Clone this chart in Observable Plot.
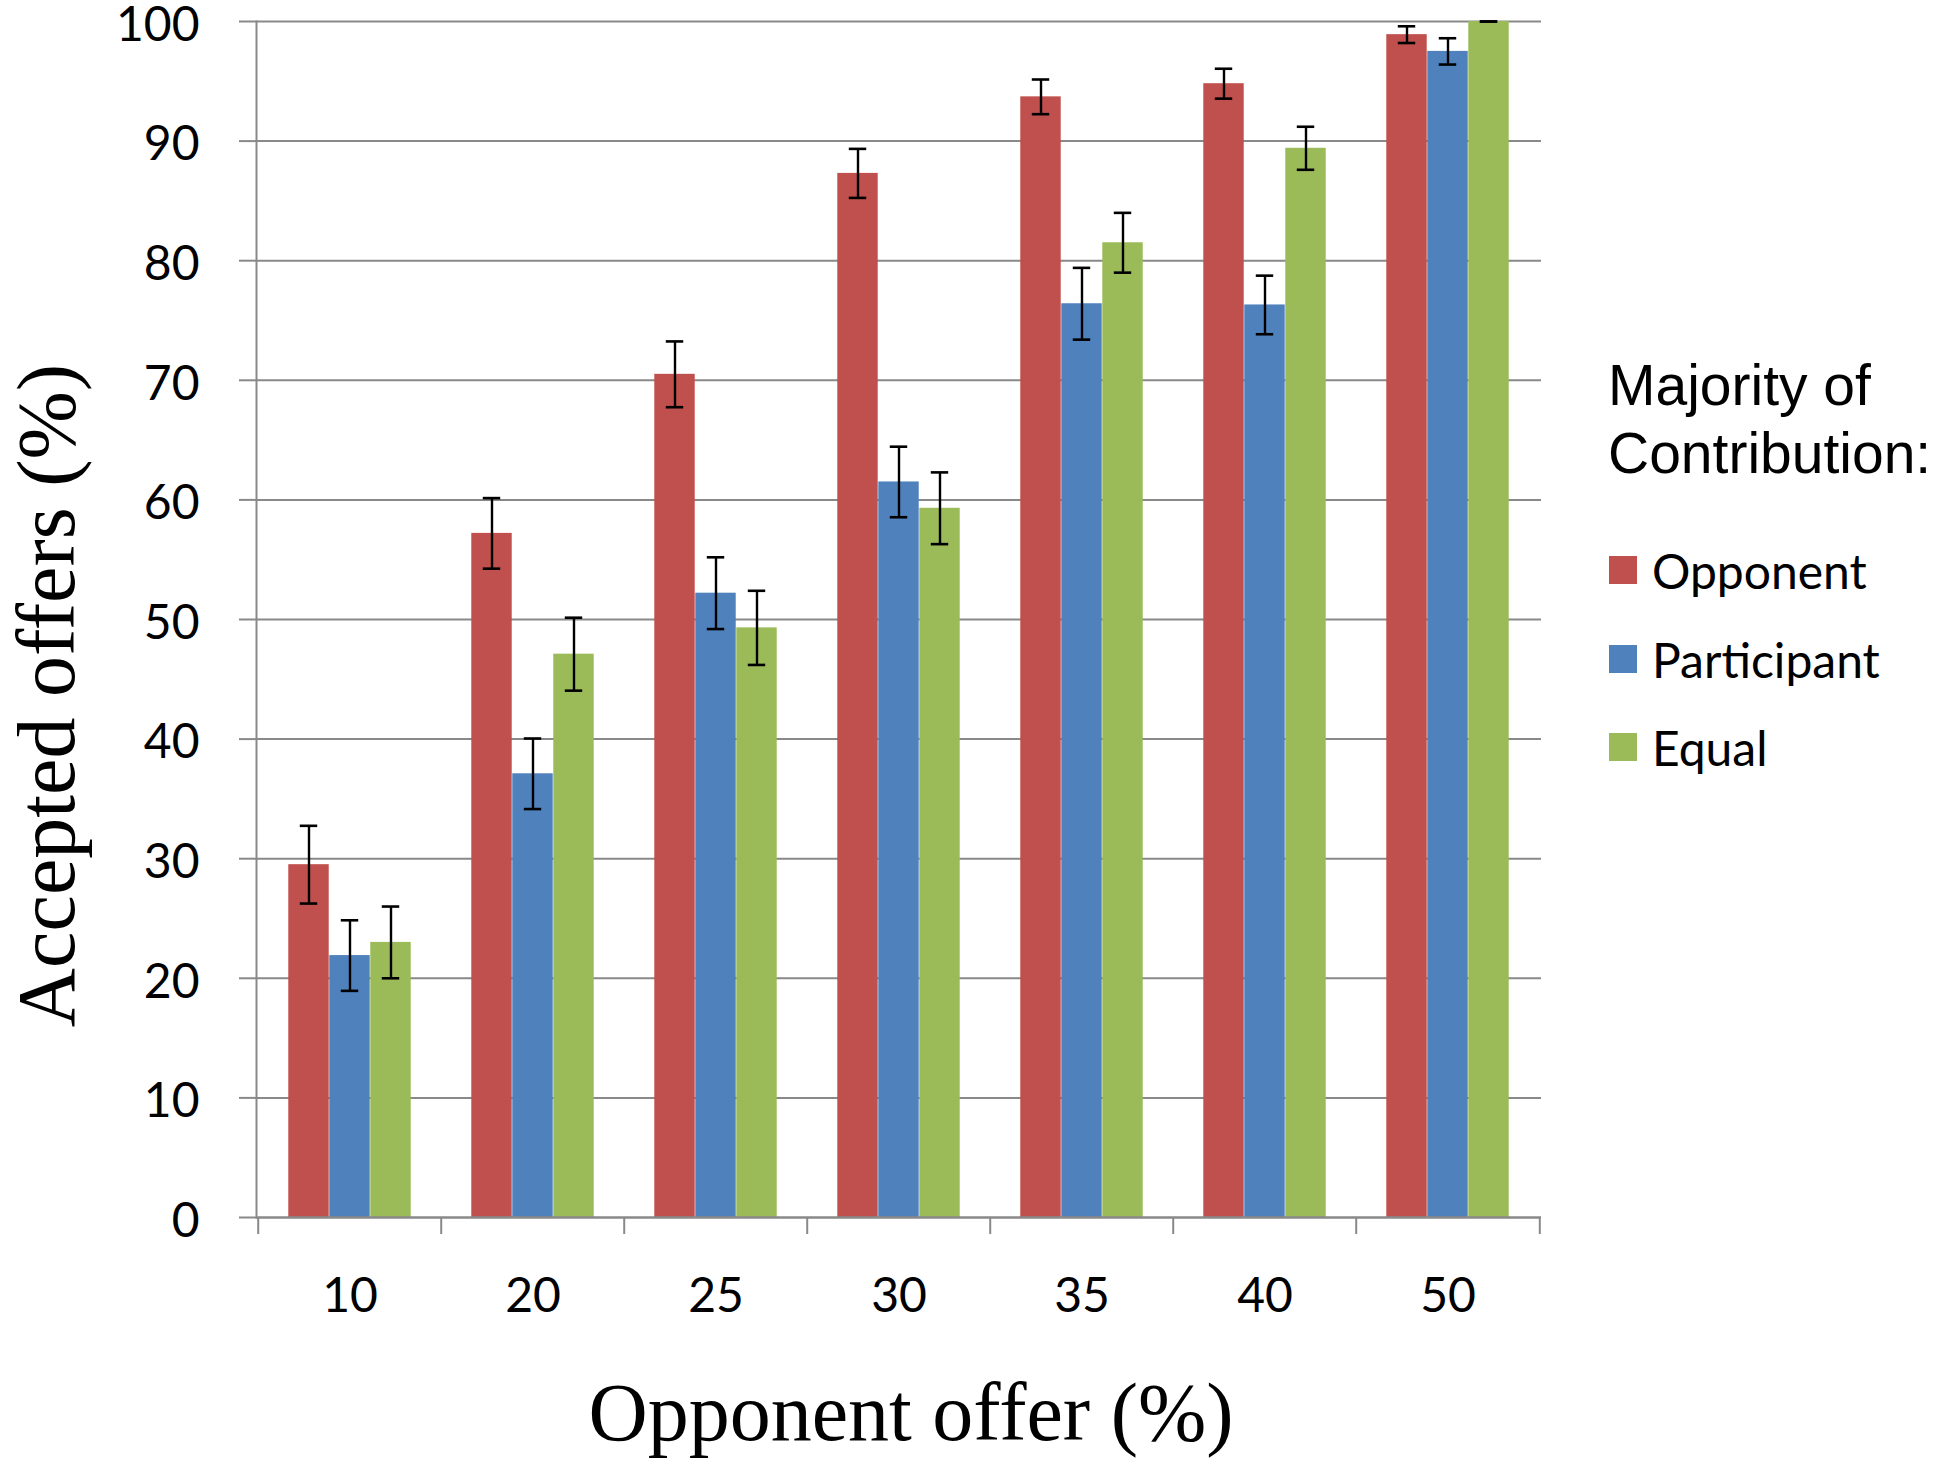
<!DOCTYPE html>
<html>
<head>
<meta charset="utf-8">
<script src="https://cdn.jsdelivr.net/npm/d3@7"></script>
<script src="https://cdn.jsdelivr.net/npm/@observablehq/plot@0.6"></script>
<style>
  html, body { margin: 0; padding: 0; background: #ffffff; }
  #wrap { position: relative; width: 1941px; height: 1462px; overflow: hidden; background: #fff; }
  #chart svg { display: block; }
  .legtitle { position: absolute; left: 1608px; top: 351px; font-family: "Liberation Sans", Arial, sans-serif; font-size: 57px; line-height: 68px; color: #000; white-space: nowrap; }
  .sw { position: absolute; left: 1609px; width: 28px; height: 28px; }
  .lt { position: absolute; left: 1652px; font-family: Lato, "Open Sans", sans-serif; font-size: 48px; line-height: 48px; color: #000; white-space: nowrap; }
</style>
</head>
<body>
<div id="wrap">
  <div id="chart"></div>
  <div id="legend"></div>
</div>
<script>
// ---- data ----
const offers = ["10", "20", "25", "30", "35", "40", "50"];
const seriesNames = ["Opponent", "Participant", "Equal"];
const seriesColors = ["#C0504D", "#4F81BD", "#9BBB59"];
const opponentValues = [29.5, 57.2, 70.5, 87.3, 93.7, 94.8, 98.9];
const opponentErrors = [3.25, 2.95, 2.75, 2.05, 1.45, 1.25, 0.7];
const participantValues = [21.9, 37.1, 52.2, 61.5, 76.4, 76.3, 97.5];
const participantErrors = [2.95, 2.95, 3.0, 2.95, 3.0, 2.45, 1.1];
const equalValues = [23.0, 47.1, 49.3, 59.3, 81.5, 89.4, 100];
const equalErrors = [3.0, 3.05, 3.1, 3.0, 2.5, 1.8, 0];
const yTicks = [0, 10, 20, 30, 40, 50, 60, 70, 80, 90, 100];
const xTitle = "Opponent offer (%)";
const yTitle = "Accepted offers (%)";
const legendTitle = ["Majority of", "Contribution:"];

// ---- layout ----
const W = 1941, H = 1462;
const mL = 256, mR = 400, mT = 21, mB = 245;
const plotW = W - mL - mR, plotH = H - mT - mB;
const band = plotW / offers.length;
const barW = 41, capW = 18;
const barInset = (band - barW) / 2;
const capInset = (band - capW) / 2;
const gray = "#898989";

const valueSets = [opponentValues, participantValues, equalValues];
const errorSets = [opponentErrors, participantErrors, equalErrors];
const rowsBySeries = seriesNames.map((s, j) =>
  offers.map((o, i) => ({offer: o, series: s, value: valueSets[j][i], err: errorSets[j][i]}))
);

const barMarks = [], errMarks = [];
rowsBySeries.forEach((rows, j) => {
  const dx = (j - 1) * barW;
  barMarks.push(Plot.barY(rows, {x: "offer", y: "value", fill: seriesColors[j], dx, insetLeft: barInset, insetRight: barInset}));
  errMarks.push(Plot.ruleX(rows, {x: "offer", y1: d => d.value - d.err, y2: d => d.value + d.err, dx, stroke: "#000", strokeWidth: 2.4}));
  errMarks.push(Plot.tickY(rows, {x: "offer", y: d => d.value + d.err, dx, insetLeft: capInset, insetRight: capInset, stroke: "#000", strokeWidth: 2.6}));
  errMarks.push(Plot.tickY(rows, {x: "offer", y: d => d.value - d.err, dx, insetLeft: capInset, insetRight: capInset, stroke: "#000", strokeWidth: 2.6}));
});

const chart = Plot.plot({
  width: W, height: H,
  marginLeft: mL, marginRight: mR, marginTop: mT, marginBottom: mB,
  style: {background: "transparent", overflow: "visible", color: "#000"},
  x: {domain: offers, padding: 0, label: null},
  y: {domain: [0, 100], label: null},
  marks: [
    Plot.ruleY(yTicks.filter(t => t > 0), {stroke: gray, strokeWidth: 2}),
    ...barMarks,
    ...errMarks,
    Plot.ruleY([0], {stroke: gray, strokeWidth: 2.5}),
    Plot.frame({anchor: "left", stroke: gray, strokeWidth: 2}),
    Plot.axisY({ticks: yTicks, tickSize: 17, stroke: gray, strokeWidth: 2, text: null, label: null}),
    Plot.axisY({ticks: yTicks, tickSize: 17, tickPadding: 40, dy: 4, stroke: "none", fill: "#000", fontSize: 48, fontFamily: "Lato, 'Open Sans', sans-serif", label: null}),
    Plot.axisX({tickSize: 0, tickPadding: 60, fill: "#000", fontSize: 48, fontFamily: "Lato, 'Open Sans', sans-serif", label: null}),
    Plot.ruleX(offers, {dx: -band / 2, insetTop: plotH, insetBottom: -17, stroke: gray, strokeWidth: 2}),
    Plot.ruleX(offers.slice(-1), {dx: band / 2, insetTop: plotH, insetBottom: -17, stroke: gray, strokeWidth: 2}),
    Plot.text([xTitle], {frameAnchor: "bottom", textAnchor: "middle", lineAnchor: "bottom", dx: 12, dy: 222, fontSize: 82, fontFamily: "'Liberation Serif', serif", fill: "#000"}),
    Plot.text([yTitle], {frameAnchor: "left", textAnchor: "middle", lineAnchor: "bottom", rotate: -90, dx: 73 - mL, dy: 695 - (mT + plotH / 2), fontSize: 82, fontFamily: "'Liberation Serif', serif", fill: "#000"})
  ]
});
document.getElementById("chart").appendChild(chart);

// ---- legend ----
const legend = document.getElementById("legend");
const t = document.createElement("div");
t.className = "legtitle";
t.innerHTML = legendTitle.join("<br>");
legend.appendChild(t);
const swatchTops = [556, 645, 733];
const textTops = [547, 636, 724];
seriesNames.forEach((name, j) => {
  const sw = document.createElement("div");
  sw.className = "sw";
  sw.style.top = swatchTops[j] + "px";
  sw.style.background = seriesColors[j];
  legend.appendChild(sw);
  const tx = document.createElement("div");
  tx.className = "lt";
  tx.style.top = textTops[j] + "px";
  tx.textContent = name;
  legend.appendChild(tx);
});
</script>
</body>
</html>
